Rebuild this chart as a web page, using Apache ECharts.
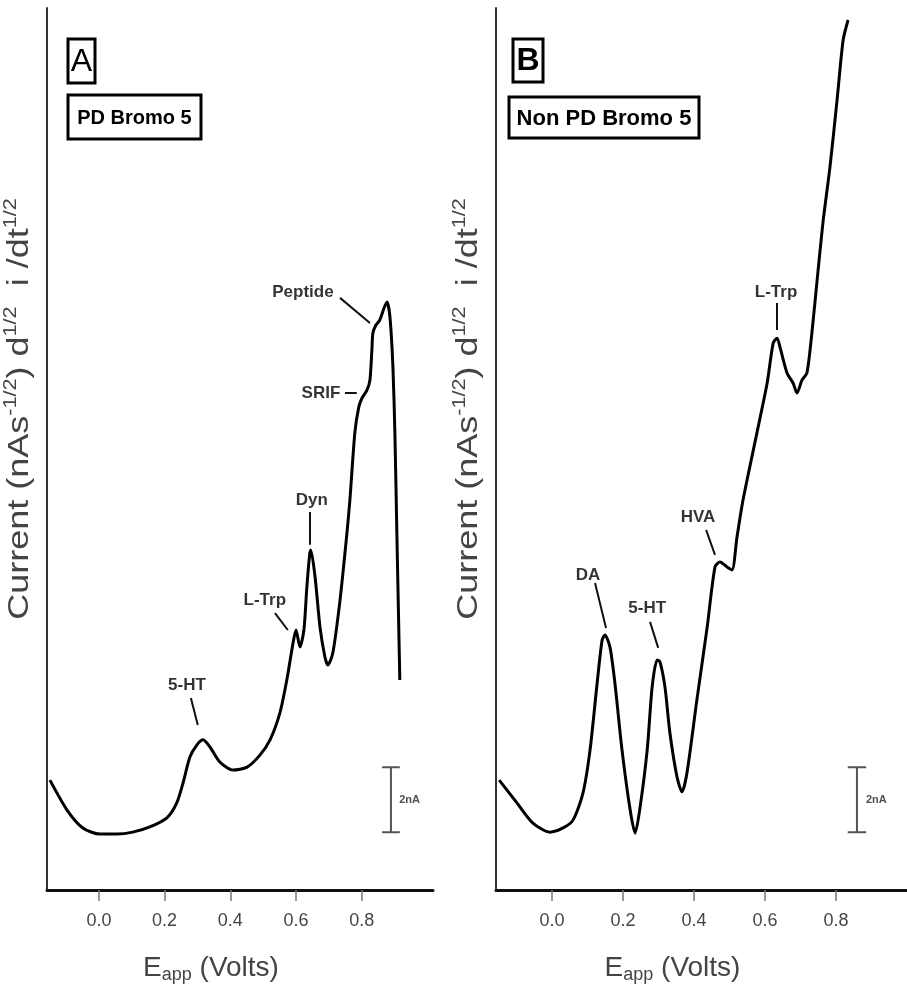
<!DOCTYPE html>
<html>
<head>
<meta charset="utf-8">
<script src="https://cdn.jsdelivr.net/npm/echarts@6/dist/echarts.min.js"></script>
<style>
html, body { margin: 0; padding: 0; background: #fff; }
#chart { width: 907px; height: 1000px; }
</style>
</head>
<body>
<div id="chart"></div>
<script>
// panel A : PD Bromo 5 (volts vs current in nA)
var voltsA = [-0.149, -0.097, -0.049, 0.003, 0.055, 0.103, 0.155, 0.207, 0.237, 0.256, 0.277, 0.298, 0.317,
    0.338, 0.368, 0.408, 0.451, 0.490, 0.521, 0.551, 0.572, 0.591, 0.600, 0.612, 0.624, 0.633, 0.642, 0.645,
    0.658, 0.673, 0.688, 0.697, 0.712, 0.734, 0.755, 0.764, 0.779, 0.791, 0.801, 0.816, 0.825, 0.831, 0.834,
    0.843, 0.855, 0.868, 0.877, 0.886, 0.895, 0.901, 0.907, 0.916];
var currentA = [3.38, 2.46, 1.91, 1.72, 1.72, 1.78, 1.94, 2.22, 2.68, 3.29, 4.09, 4.46, 4.62,
    4.40, 3.94, 3.69, 3.78, 4.15, 4.62, 5.45, 6.46, 7.60, 8.00, 7.48, 8.00, 9.32, 10.37, 10.46,
    9.63, 8.09, 7.17, 6.92, 7.29, 8.92, 10.98, 12.00, 14.06, 14.86, 15.14, 15.38, 15.69, 16.62, 17.14,
    17.38, 17.54, 17.91, 18.09, 17.63, 16.09, 14.06, 10.98, 6.46];

// panel B : Non PD Bromo 5
var voltsB = [-0.149, -0.099, -0.054, -0.006, 0.031, 0.059, 0.087, 0.107, 0.127, 0.141, 0.149, 0.163, 0.177,
    0.197, 0.220, 0.234, 0.248, 0.268, 0.282, 0.296, 0.304, 0.318, 0.332, 0.352, 0.366, 0.380, 0.408, 0.437,
    0.459, 0.473, 0.493, 0.507, 0.521, 0.538, 0.577, 0.606, 0.623, 0.634, 0.642, 0.662, 0.679, 0.690, 0.704,
    0.718, 0.732, 0.746, 0.763, 0.783, 0.803, 0.820, 0.834];
var currentB = [3.38, 2.68, 2.06, 1.78, 1.91, 2.15, 2.98, 4.31, 6.37, 7.69, 7.85, 7.48, 6.37,
    4.31, 2.46, 1.75, 2.55, 4.31, 6.25, 7.08, 7.02, 6.25, 4.83, 3.48, 3.02, 3.60, 5.85, 8.09,
    9.94, 10.09, 9.94, 9.85, 10.86, 12.00, 14.06, 15.60, 16.83, 16.98, 16.71, 15.91, 15.60, 15.29, 15.69,
    15.91, 17.14, 18.68, 20.52, 22.25, 24.31, 26.15, 26.77];

var tickValues = [0, 0.2, 0.4, 0.6, 0.8];

// peak annotations: name, text anchor, leader line
var peakNamesA = ['Peptide', 'SRIF', 'Dyn', 'L-Trp', '5-HT'];
var peakTextA = [[0.621, 18.40], [0.676, 15.29], [0.648, 12.00], [0.505, 8.92], [0.268, 6.31]];
var peakLeaderA = [
    [[0.734, 18.22], [0.825, 17.45]],
    [[0.749, 15.29], [0.785, 15.29]],
    [[0.642, 11.63], [0.642, 10.62]],
    [[0.536, 8.52], [0.575, 8.00]],
    [[0.280, 5.91], [0.301, 5.08]]
];
var peakNamesB = ['L-Trp', 'HVA', 'DA', '5-HT'];
var peakTextB = [[0.631, 18.40], [0.411, 11.48], [0.101, 9.69], [0.268, 8.68]];
var peakLeaderB = [
    [[0.634, 18.06], [0.634, 17.23]],
    [[0.434, 11.08], [0.459, 10.31]],
    [[0.121, 9.45], [0.152, 8.06]],
    [[0.276, 8.25], [0.299, 7.45]]
];

// 2 nA scale bars: [x, bottom, top, cap half width]
var scaleA = [0.889, 1.78, 3.78, 0.027];
var scaleB = [0.859, 1.78, 3.78, 0.026];

var FONT = '"Liberation Sans", Arial, sans-serif';

function pairs(xs, ys) {
    return xs.map(function (x, i) { return [x, ys[i]]; });
}

function scaleBar(s) {
    return [[s[0] - s[3], s[1]], [s[0] + s[3], s[1]], [s[0], s[1]],
            [s[0], s[2]], [s[0] - s[3], s[2]], [s[0] + s[3], s[2]]];
}

function panelSeries(idx, xs, ys, names, textPos, leaders, scale) {
    return [
        {
            type: 'line',
            xAxisIndex: idx, yAxisIndex: idx,
            data: pairs(xs, ys),
            showSymbol: false,
            smooth: 0.25,
            lineStyle: { color: '#000', width: 3 },
            z: 3
        },
        {
            type: 'scatter',
            xAxisIndex: idx, yAxisIndex: idx,
            symbolSize: 0.1,
            itemStyle: { color: 'transparent' },
            data: names.map(function (n, i) { return { name: n, value: textPos[i] }; }),
            label: {
                show: true, position: 'inside', formatter: '{b}',
                color: '#000', fontWeight: 'bold', fontSize: 17, fontFamily: FONT
            },
            markLine: {
                silent: true,
                symbol: ['none', 'none'],
                label: { show: false },
                lineStyle: { type: 'solid', color: '#111', width: 2 },
                data: leaders.map(function (l) { return [{ coord: l[0] }, { coord: l[1] }]; })
            }
        },
        {
            type: 'line',
            xAxisIndex: idx, yAxisIndex: idx,
            data: scaleBar(scale),
            showSymbol: false,
            lineStyle: { color: '#555', width: 2 }
        },
        {
            type: 'scatter',
            xAxisIndex: idx, yAxisIndex: idx,
            symbolSize: 0.1,
            itemStyle: { color: 'transparent' },
            data: [{ name: '2nA', value: [scale[0] + 0.025, (scale[1] + scale[2]) / 2] }],
            label: {
                show: true, position: 'right', formatter: '{b}', distance: 0,
                color: '#222', fontWeight: 'bold', fontSize: 11, fontFamily: FONT
            }
        }
    ];
}

function xAxis(idx, min, max) {
    return {
        gridIndex: idx, type: 'value', min: min, max: max,
        splitLine: { show: false },
        axisLine: { onZero: false, lineStyle: { color: '#111', width: 3 } },
        axisTick: { show: true, length: 11, customValues: tickValues, lineStyle: { color: '#777', width: 1.5 } },
        axisLabel: {
            customValues: tickValues, margin: 22, fontSize: 18, color: '#444', fontFamily: FONT,
            formatter: function (v) { return v.toFixed(1); }
        },
        name: '{m|E}{s|app}{m| (Volts)}',
        nameLocation: 'middle',
        nameGap: 62,
        nameTextStyle: {
            padding: [0, 58, 0, 0],
            rich: {
                m: { fontSize: 28, color: '#444', fontFamily: FONT },
                s: { fontSize: 18, color: '#444', fontFamily: FONT, padding: [14, 0, 0, 0] }
            }
        }
    };
}

function yAxis(idx) {
    return {
        gridIndex: idx, type: 'value', min: 0, max: 27.14,
        splitLine: { show: false },
        axisTick: { show: false },
        axisLabel: { show: false },
        axisLine: { show: true, onZero: false, lineStyle: { color: '#333', width: 2 } }
    };
}

// rotated, slightly stretched y title (the source figure is stretched vertically)
function yTitle(cx, cy) {
    return {
        type: 'text', x: cx, y: cy, rotation: Math.PI / 2, scaleX: 1.2,
        style: {
            text: '{m|Current (nAs}{s|-1/2}{m|) d}{s|1/2}{m|  i /dt}{s|1/2}',
            align: 'center', verticalAlign: 'middle',
            rich: {
                m: { fontSize: 30, fill: '#444', fontFamily: FONT },
                s: { fontSize: 18, fill: '#444', fontFamily: FONT, padding: [0, 0, 17, 0] }
            }
        }
    };
}

function box(x, y, w, h, text, font) {
    return {
        type: 'group',
        children: [
            { type: 'rect', shape: { x: x, y: y, width: w, height: h },
              style: { fill: '#fff', stroke: '#000', lineWidth: 3 } },
            { type: 'text', x: x + w / 2, y: y + h / 2 + 1,
              style: { text: text, align: 'center', verticalAlign: 'middle', font: font, fill: '#000' } }
        ]
    };
}

var chart = echarts.init(document.getElementById('chart'));

var option = {
    animation: false,
    backgroundColor: '#fff',
    grid: [
        { left: 47, top: 8, width: 386, height: 882 },
        { left: 496, top: 8, width: 411, height: 882 }
    ],
    xAxis: [xAxis(0, -0.158, 1.017), xAxis(1, -0.158, 1.0)],
    yAxis: [yAxis(0), yAxis(1)],
    graphic: [
        yTitle(20, 409),
        yTitle(469, 409),
        box(68, 39, 27, 44, 'A', '32px ' + FONT),
        box(68, 95, 133, 44, 'PD Bromo 5', 'bold 20px ' + FONT),
        box(513, 39, 30, 43, 'B', 'bold 32px ' + FONT),
        box(509, 97, 190, 41, 'Non PD Bromo 5', 'bold 22px ' + FONT)
    ],
    series: panelSeries(0, voltsA, currentA, peakNamesA, peakTextA, peakLeaderA, scaleA)
        .concat(panelSeries(1, voltsB, currentB, peakNamesB, peakTextB, peakLeaderB, scaleB))
};

chart.setOption(option);
</script>
</body>
</html>
